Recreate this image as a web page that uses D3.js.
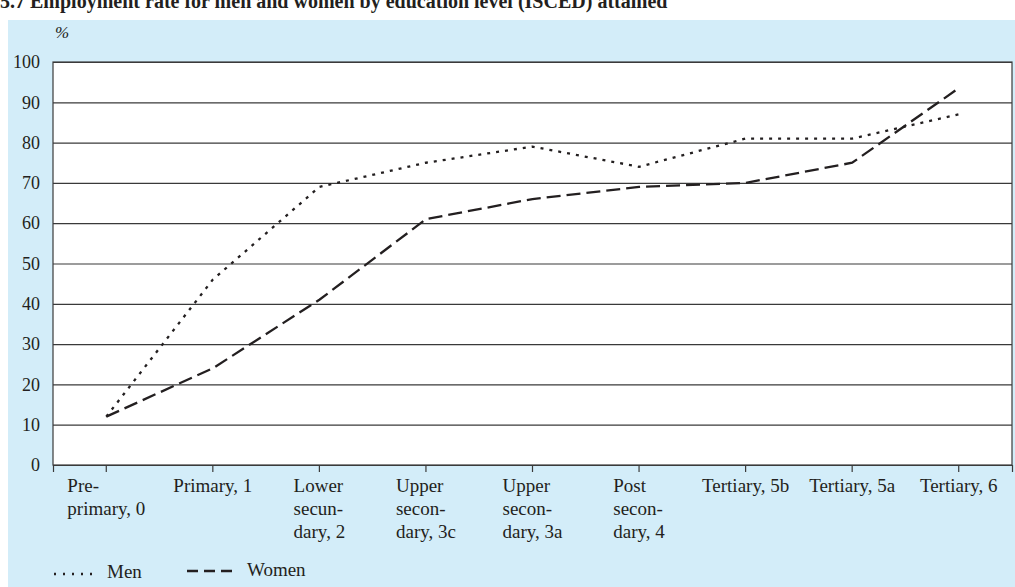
<!DOCTYPE html>
<html>
<head>
<meta charset="utf-8">
<script src="https://cdn.jsdelivr.net/npm/d3@7"></script>
<style>
  body { margin: 0; background: #fff; }
  text { font-family: "Liberation Serif", "Times New Roman", serif; fill: #231f20; }
</style>
</head>
<body>
<div id="chart-area"></div>
<script>
// data
const categories = ["Pre-|primary, 0", "Primary, 1", "Lower|secun-|dary, 2", "Upper|secon-|dary, 3c",
                    "Upper|secon-|dary, 3a", "Post|secon-|dary, 4", "Tertiary, 5b", "Tertiary, 5a", "Tertiary, 6"];
const menValues = [12, 46, 69, 75, 79, 74, 81, 81, 87];
const womenValues = [12, 24, 41, 61, 66, 69, 70, 75, 93.5];
const yTicks = [0, 10, 20, 30, 40, 50, 60, 70, 80, 90, 100];

const svgWidth = 1015, svgHeight = 587;
const plot = {left: 53, right: 1012, top: 62, bottom: 465};

var svg = d3.select("#chart-area")
    .append("svg")
    .attr("width", svgWidth)
    .attr("height", svgHeight);

// panel background
svg.append("rect")
    .attr("x", 8).attr("y", 20)
    .attr("width", svgWidth - 8).attr("height", svgHeight - 20)
    .attr("fill", "#d3edf9");

// title (top of it is cropped, as in the source scan)
svg.append("text")
    .attr("x", 0).attr("y", 8)
    .attr("font-size", "20px")
    .attr("font-weight", "bold")
    .text("5.7  Employment rate for men and women by education level (ISCED) attained");

// scales
var xScale = d3.scaleBand()
    .domain(categories)
    .range([plot.left, plot.right]);
var yScale = d3.scaleLinear()
    .domain([0, 100])
    .range([plot.bottom, plot.top]);

// plot area
svg.append("rect")
    .attr("x", plot.left).attr("y", plot.top)
    .attr("width", plot.right - plot.left).attr("height", plot.bottom - plot.top)
    .attr("fill", "#fff")
    .attr("stroke", "#3a3a3a")
    .attr("stroke-width", 1.2);

// gridlines + y labels
var yAxisCall = d3.axisLeft(yScale)
    .tickValues(yTicks)
    .tickSize(-(plot.right - plot.left))
    .tickPadding(13);
var yAxis = svg.append("g")
    .attr("transform", "translate(" + plot.left + ",0)")
    .call(yAxisCall);
yAxis.select(".domain").remove();
yAxis.selectAll("line").attr("stroke", "#3a3a3a").attr("stroke-width", 1.2);
yAxis.selectAll("text")
    .attr("font-size", "18px")
    .attr("font-family", "Liberation Serif, serif")
    .attr("fill", "#231f20");

svg.append("text")
    .attr("x", 55).attr("y", 38)
    .attr("font-size", "17px")
    .attr("font-style", "italic")
    .text("%");

// x axis ticks
var xAxisCall = d3.axisBottom(xScale).tickSize(7).tickFormat("");
var xAxis = svg.append("g")
    .attr("transform", "translate(0," + plot.bottom + ")")
    .call(xAxisCall);
xAxis.select(".domain").attr("stroke", "#3a3a3a").attr("stroke-width", 1.2);
xAxis.selectAll("line").attr("stroke", "#3a3a3a").attr("stroke-width", 1.2);

// x labels: left-aligned block centered on tick
categories.forEach(function(c) {
    var cx = xScale(c) + xScale.bandwidth() / 2;
    var g = svg.append("text")
        .attr("font-size", "19px");
    c.split("|").forEach(function(line, i) {
        g.append("tspan").attr("x", 0).attr("y", 492 + i * 23).text(line);
    });
    var w = d3.max(g.selectAll("tspan").nodes(), function(n) { return n.getComputedTextLength(); });
    g.selectAll("tspan").attr("x", cx - w / 2);
});

// lines
var line = d3.line()
    .x(function(d, i) { return xScale(categories[i]) + xScale.bandwidth() / 2; })
    .y(function(d) { return yScale(d); });

svg.append("path")
    .datum(menValues)
    .attr("d", line)
    .attr("fill", "none")
    .attr("stroke", "#231f20")
    .attr("stroke-width", 2.3)
    .attr("stroke-dasharray", "3,6");

svg.append("path")
    .datum(womenValues)
    .attr("d", line)
    .attr("fill", "none")
    .attr("stroke", "#231f20")
    .attr("stroke-width", 2.3)
    .attr("stroke-dasharray", "14,6");

// legend
var legendY = 571;
svg.append("line")
    .attr("x1", 54).attr("x2", 98).attr("y1", legendY + 3).attr("y2", legendY + 3)
    .attr("stroke", "#231f20").attr("stroke-width", 2.3).attr("stroke-dasharray", "2,7");
svg.append("text").attr("x", 107).attr("y", legendY + 7).attr("font-size", "19px").text("Men");
svg.append("line")
    .attr("x1", 187).attr("x2", 233).attr("y1", legendY).attr("y2", legendY)
    .attr("stroke", "#231f20").attr("stroke-width", 2.3).attr("stroke-dasharray", "11,6");
svg.append("text").attr("x", 247).attr("y", legendY + 5).attr("font-size", "19px").text("Women");
</script>
</body>
</html>
